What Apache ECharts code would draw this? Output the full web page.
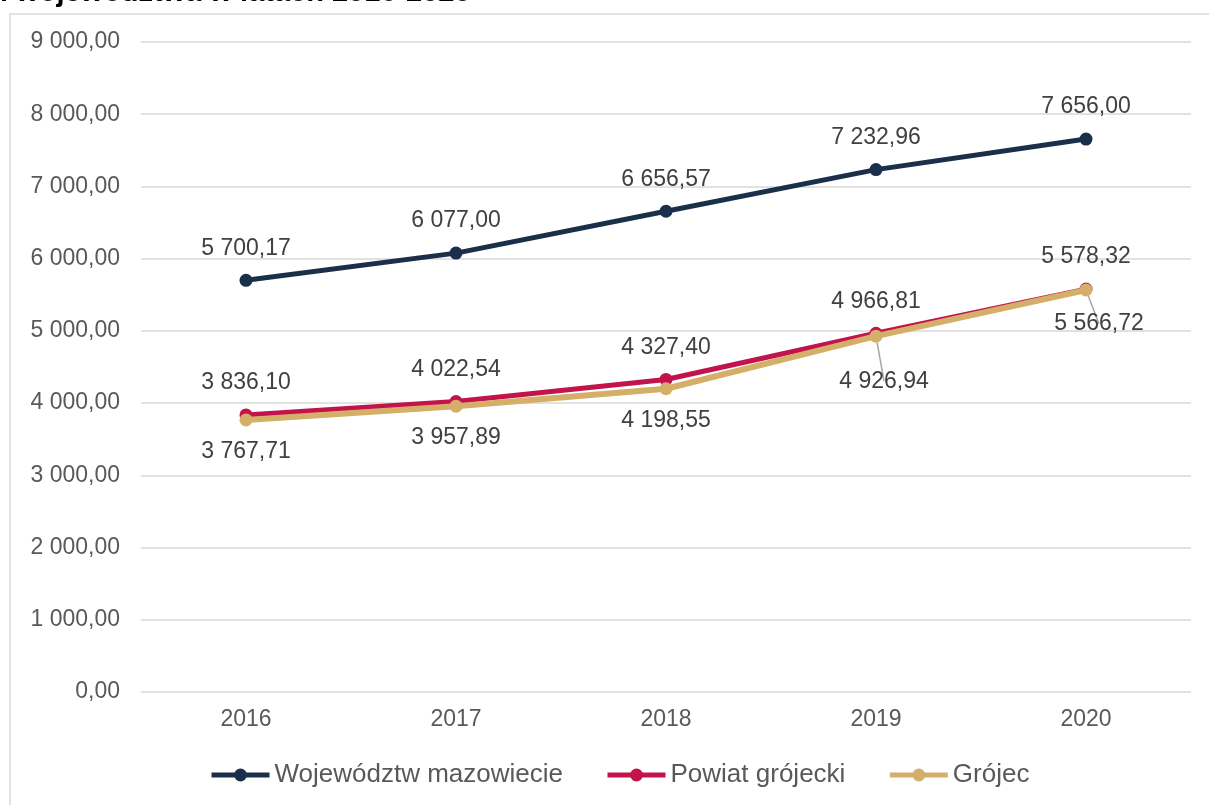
<!DOCTYPE html>
<html>
<head>
<meta charset="utf-8">
<script src="https://cdn.jsdelivr.net/npm/echarts@6/dist/echarts.min.js"></script>
<style>
  html, body { margin: 0; padding: 0; background: #ffffff; }
  #chart { width: 1209px; height: 805px; }
</style>
</head>
<body>
<div id="chart"></div>
<script>
// Years on the category axis
const years = ['2016', '2017', '2018', '2019', '2020'];

// Values per area
const wojewodztwo = [5700.17, 6077.00, 6656.57, 7232.96, 7656.00];
const powiat = [3836.10, 4022.54, 4327.40, 4966.81, 5578.32];
const grojec = [3767.71, 3957.89, 4198.55, 4926.94, 5566.72];

// Series names
const seriesNames = ['Województw mazowiecie', 'Powiat grójecki', 'Grójec'];

const titleText = 'i województwa w latach 2016-2020';

const FONT = 'Liberation Sans, Arial, sans-serif';

// Polish number format: space as thousands separator, comma as decimal mark
function fmt(v) {
  const parts = v.toFixed(2).split('.');
  const intPart = parts[0].replace(/\B(?=(\d{3})+(?!\d))/g, ' ');
  return intPart + ',' + parts[1];
}

const labelBase = {
  show: true,
  fontFamily: FONT,
  fontSize: 23,
  color: '#404040',
  distance: 14,
  formatter: p => fmt(p.value)
};

// Grójec: 2019 and 2020 labels pushed aside with a guide line
const grojecData = grojec.map((v, i) => {
  if (i === 3) {
    return { value: v, label: { position: 'bottom', offset: [8, 13] }, labelLine: { show: true } };
  }
  if (i === 4) {
    return { value: v, label: { position: 'bottom', offset: [13, 2] }, labelLine: { show: true } };
  }
  return v;
});

const chart = echarts.init(document.getElementById('chart'), null, { renderer: 'canvas' });

chart.setOption({
  backgroundColor: '#ffffff',
  animation: false,
  textStyle: { fontFamily: FONT },
  graphic: [
    {
      type: 'rect',
      shape: { x: 10, y: 14, width: 1240, height: 820 },
      style: { fill: 'none', stroke: '#d9d9d9', lineWidth: 1.5 },
      silent: true
    },
    {
      type: 'text',
      left: 0,
      top: -22,
      style: {
        text: titleText,
        font: 'bold 29px ' + FONT,
        fill: '#000000'
      },
      silent: true
    }
  ],
  grid: { left: 141, right: 18, top: 42, bottom: 113, containLabel: false },
  legend: {
    left: 204,
    top: 757,
    itemWidth: 58,
    itemHeight: 16,
    itemGap: 42,
    lineStyle: { width: 5 },
    textStyle: { fontFamily: FONT, fontSize: 26, color: '#595959' },
    data: seriesNames
  },
  xAxis: {
    type: 'category',
    data: years,
    boundaryGap: true,
    axisLine: { show: false },
    axisTick: { show: false },
    axisLabel: { fontFamily: FONT, fontSize: 23, color: '#595959', margin: 16 }
  },
  yAxis: {
    type: 'value',
    min: 0,
    max: 9000,
    interval: 1000,
    axisLine: { show: false },
    axisTick: { show: false },
    splitLine: { lineStyle: { color: '#d9d9d9', width: 1.5 } },
    axisLabel: {
      fontFamily: FONT,
      fontSize: 23,
      color: '#595959',
      margin: 21,
      formatter: v => fmt(v)
    }
  },
  series: [
    {
      name: seriesNames[0],
      type: 'line',
      data: wojewodztwo,
      symbol: 'circle',
      symbolSize: 13,
      lineStyle: { color: '#1a2f4a', width: 5 },
      itemStyle: { color: '#1a2f4a' },
      label: Object.assign({}, labelBase, { position: 'top' }),
      z: 3
    },
    {
      name: seriesNames[1],
      type: 'line',
      data: powiat,
      symbol: 'circle',
      symbolSize: 13,
      lineStyle: { color: '#c2134b', width: 5 },
      itemStyle: { color: '#c2134b' },
      label: Object.assign({}, labelBase, { position: 'top' }),
      z: 2
    },
    {
      name: seriesNames[2],
      type: 'line',
      data: grojecData,
      symbol: 'circle',
      symbolSize: 13,
      lineStyle: { color: '#d4af6a', width: 6 },
      itemStyle: { color: '#d4af6a' },
      label: Object.assign({}, labelBase, { position: 'bottom' }),
      labelLine: { show: false, lineStyle: { color: '#a6a6a6', width: 1.5 } },
      z: 4
    }
  ]
});
</script>
</body>
</html>
